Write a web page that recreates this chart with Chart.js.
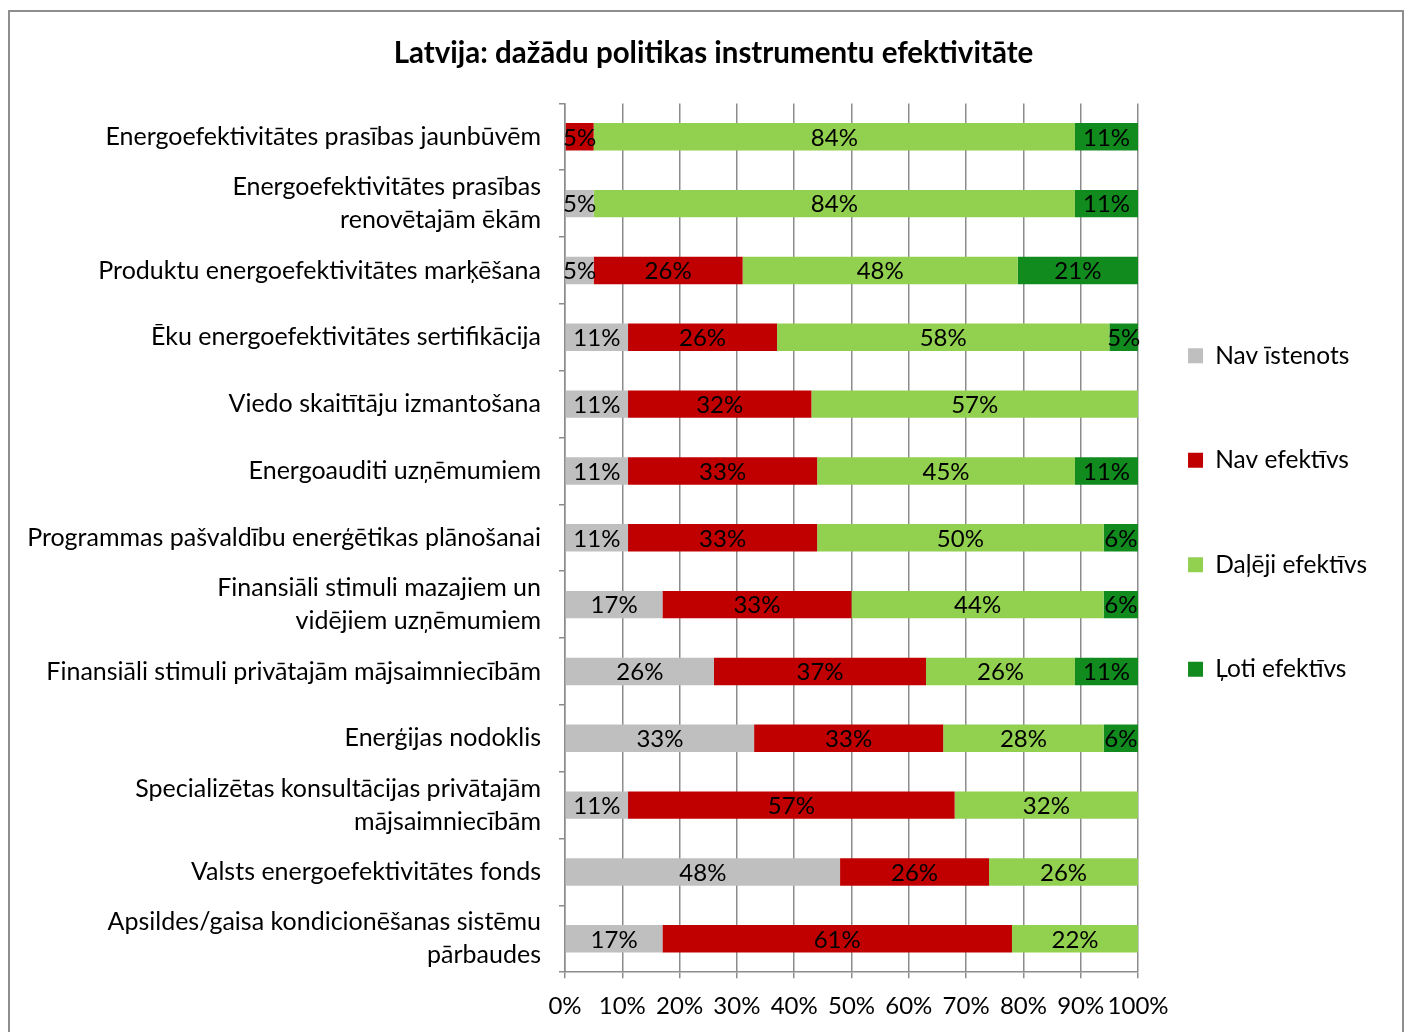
<!DOCTYPE html>
<html>
<head>
<meta charset="utf-8">
<script src="https://cdn.jsdelivr.net/npm/chart.js@4.4.1/dist/chart.umd.min.js"></script>
<style>
  body { margin: 0; background: #fff; }
  #frame {
    position: absolute; left: 8px; top: 10px;
    width: 1392px; height: 1040px;
    border: 2px solid #8e8e8e; background: #fff;
  }
</style>
</head>
<body>
<div id="frame"><canvas id="chart" width="1392" height="1040"></canvas></div>
<script>
// Categories (top to bottom)
const categories = [
    'Energoefektivitātes prasības jaunbūvēm',
    ['Energoefektivitātes prasības', 'renovētajām ēkām'],
    'Produktu energoefektivitātes marķēšana',
    'Ēku energoefektivitātes sertifikācija',
    'Viedo skaitītāju izmantošana',
    'Energoauditi uzņēmumiem',
    'Programmas pašvaldību enerģētikas plānošanai',
    ['Finansiāli stimuli mazajiem un', 'vidējiem uzņēmumiem'],
    'Finansiāli stimuli privātajām mājsaimniecībām',
    'Enerģijas nodoklis',
    ['Specializētas konsultācijas privātajām', 'mājsaimniecībām'],
    'Valsts energoefektivitātes fonds',
    ['Apsildes/gaisa kondicionēšanas sistēmu', 'pārbaudes']
];

// Series values (%)
const navIstenots   = [0, 5, 5, 11, 11, 11, 11, 17, 26, 33, 11, 48, 17];
const navEfektivs   = [5, 0, 26, 26, 32, 33, 33, 33, 37, 33, 57, 26, 61];
const dalejiEfekt   = [84, 84, 48, 58, 57, 45, 50, 44, 26, 28, 32, 26, 22];
const lotiEfektivs  = [11, 11, 21, 5, 0, 11, 6, 6, 11, 6, 0, 0, 0];

const seriesNames = ['Nav īstenots', 'Nav efektīvs', 'Daļēji efektīvs', 'Ļoti efektīvs'];
const seriesColors = ['#bfbfbf', '#c00000', '#92d050', '#118a1e'];

const FONT = 'Lato';
const LEGEND_PAD = 80;

// Draws the percentage inside each bar segment
const segmentLabels = {
    id: 'segmentLabels',
    afterDatasetsDraw(chart) {
        const ctx = chart.ctx;
        ctx.save();
        ctx.font = '24px ' + FONT;
        ctx.fillStyle = '#000';
        ctx.textAlign = 'center';
        ctx.textBaseline = 'middle';
        chart.data.datasets.forEach((ds, i) => {
            const meta = chart.getDatasetMeta(i);
            meta.data.forEach((bar, j) => {
                const v = ds.data[j];
                if (!v) return;
                const p = bar.getProps(['x', 'y', 'base'], true);
                ctx.fillText(v + '%', (p.x + p.base) / 2, p.y + 1);
            });
        });
        ctx.restore();
    }
};

// Pull the legend closer to the plot (big item padding otherwise leaves a wide gap)
const legendNudge = {
    id: 'legendNudge',
    afterLayout(chart) {
        const lg = chart.legend;
        const dx = chart.chartArea.right + 50 - LEGEND_PAD - lg.left;
        lg.left += dx;
        lg.right += dx;
        lg.top -= 17;
        lg.bottom -= 17;
    }
};

const allSeries = [navIstenots, navEfektivs, dalejiEfekt, lotiEfektivs];

new Chart(document.getElementById('chart'), {
    type: 'bar',
    data: {
        labels: categories,
        datasets: allSeries.map((d, i) => ({
            label: seriesNames[i],
            data: d,
            backgroundColor: seriesColors[i],
            borderWidth: 0,
            categoryPercentage: 1,
            barPercentage: 0.41
        }))
    },
    plugins: [segmentLabels, legendNudge],
    options: {
        indexAxis: 'y',
        responsive: false,
        animation: false,
        layout: { padding: { top: 12, right: -5, left: 10, bottom: 17 } },
        plugins: {
            title: {
                display: true,
                text: 'Latvija: dažādu politikas instrumentu efektivitāte',
                color: '#000',
                font: { family: FONT, size: 29.5, weight: 'bold' },
                padding: { top: 12, bottom: 32 }
            },
            legend: {
                position: 'right',
                labels: {
                    color: '#000',
                    font: { family: FONT, size: 24.5 },
                    boxWidth: 15,
                    boxHeight: 15,
                    padding: LEGEND_PAD
                }
            },
            tooltip: { enabled: false }
        },
        scales: {
            x: {
                stacked: true,
                min: 0,
                max: 100,
                ticks: {
                    stepSize: 10,
                    color: '#000',
                    font: { family: FONT, size: 24 },
                    padding: 14,
                    maxRotation: 0,
                    minRotation: 0,
                    autoSkip: false,
                    callback: v => v + '%'
                },
                grid: { color: '#8c8c8c', lineWidth: 1.5, tickLength: 6 },
                border: { color: '#8c8c8c', width: 1.5 }
            },
            y: {
                stacked: true,
                afterFit(scale) { scale.width = 545; },
                ticks: {
                    color: '#000',
                    font: { family: FONT, size: 25, lineHeight: 1.32 },
                    padding: 18,
                    autoSkip: false
                },
                grid: { drawOnChartArea: false, color: '#8c8c8c', lineWidth: 1.5, tickLength: 6, offset: true },
                border: { color: '#8c8c8c', width: 1.5 }
            }
        }
    }
});
</script>
</body>
</html>
